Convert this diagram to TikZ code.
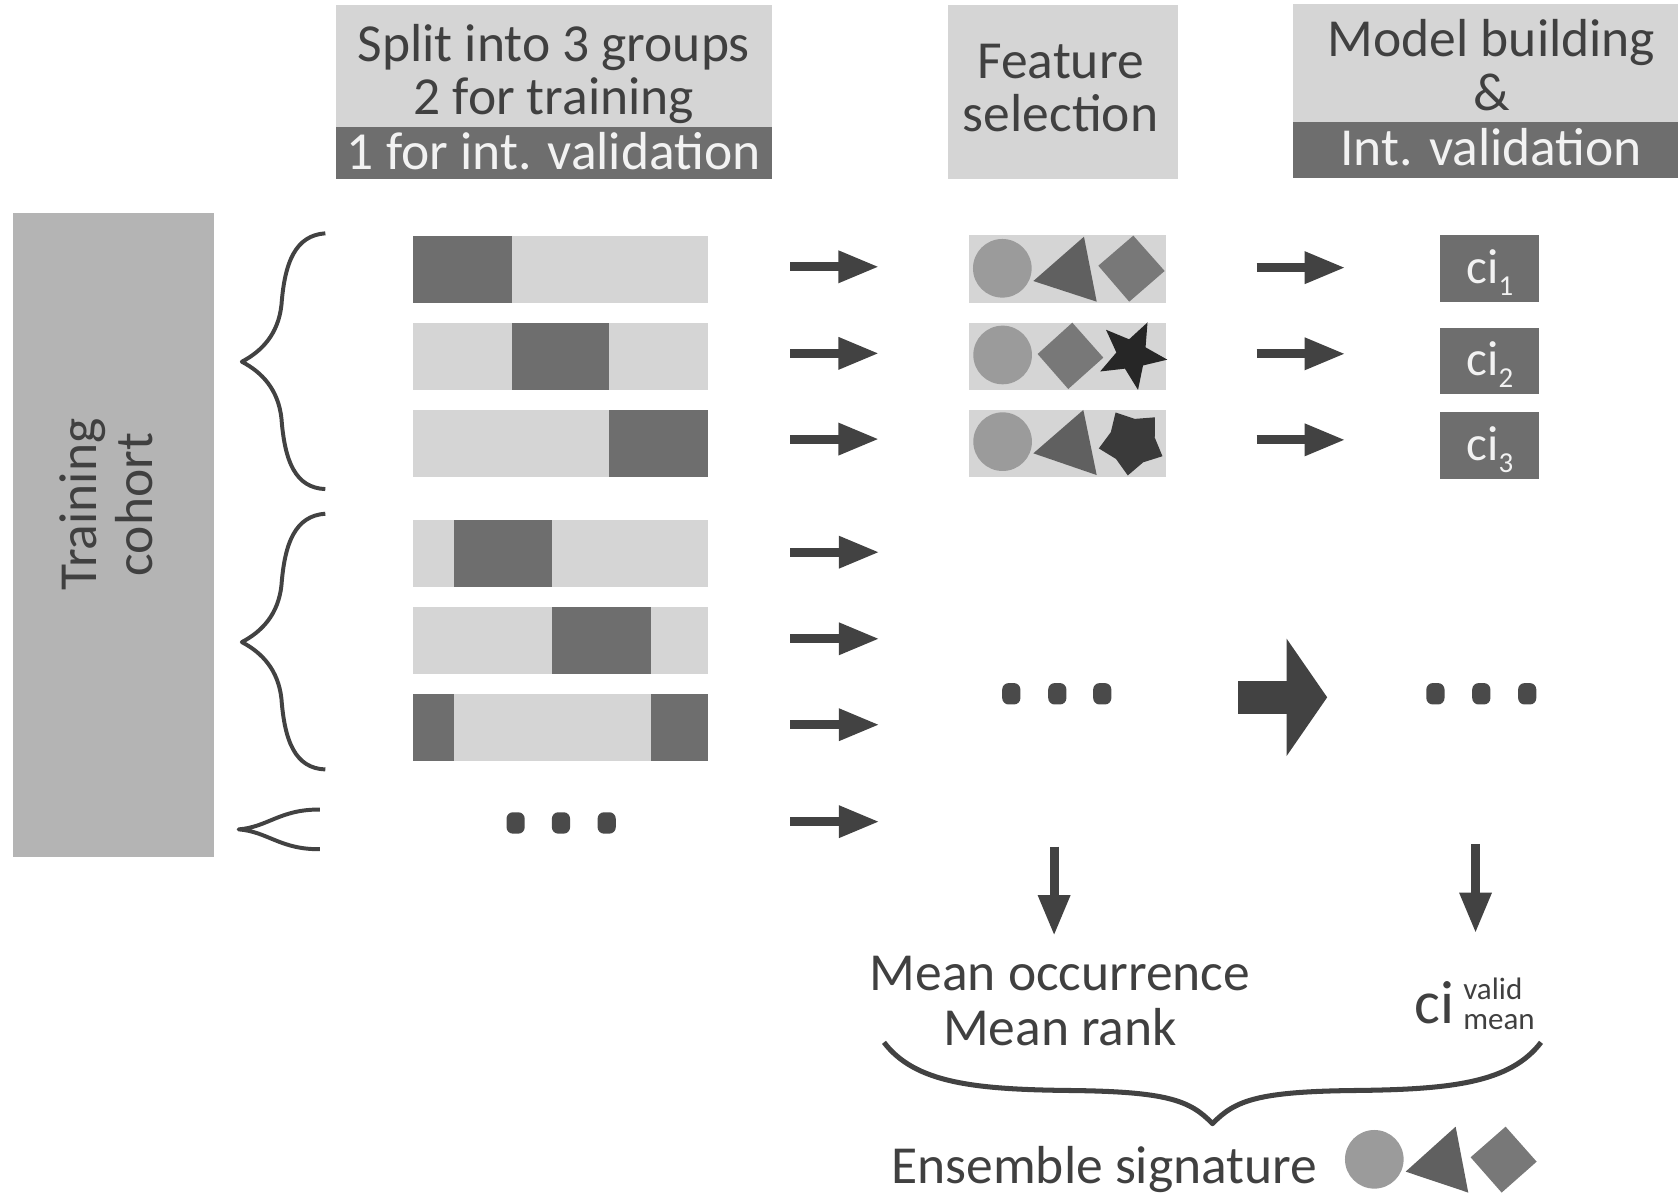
\documentclass[tikz,border=0pt]{standalone}
\usepackage{fontspec}
\setmainfont{Carlito}
\usepackage{xcolor}
\definecolor{ltgray}{RGB}{213,213,213}
\definecolor{dkgray}{RGB}{110,110,110}
\definecolor{cohortgray}{RGB}{180,180,180}
\definecolor{arrowgray}{RGB}{66,66,66}
\definecolor{dotgray}{RGB}{74,74,74}
\definecolor{txtgray}{RGB}{64,64,64}
\definecolor{bandtxt}{RGB}{242,242,242}
\definecolor{circgray}{RGB}{155,155,155}
\definecolor{trigray}{RGB}{96,96,96}
\definecolor{diagray}{RGB}{120,120,120}
\definecolor{stargray}{RGB}{38,38,38}
\definecolor{startwogray}{RGB}{58,58,58}
\usetikzlibrary{arrows.meta, positioning, shapes.geometric, calc}

\newcommand{\cisub}[1]{\raisebox{-11pt}{\fontsize{27}{27}\selectfont #1}}
\newcommand{\cistack}[2]{\hspace{8pt}\raisebox{-6.4pt}{\fontsize{29}{28}\selectfont
  \begin{tabular}[b]{@{}l@{}}#1\\#2\end{tabular}}}

\tikzset{
  bigtxt/.style={font=\fontsize{50}{50}\selectfont, text=txtgray, inner sep=0pt, anchor=base},
  headbox/.style={fill=ltgray, inner sep=0pt},
  headband/.style={fill=dkgray, inner sep=0pt},
  bar/.style={fill=ltgray, minimum width=276.3pt, minimum height=63pt, inner sep=0pt},
  darkseg/.style={fill=dkgray, minimum height=63pt, inner sep=0pt},
  featbox/.style={fill=ltgray, minimum width=184.5pt, minimum height=63pt, inner sep=0pt},
  cibox/.style={fill=dkgray, text=bandtxt, minimum width=92.4pt, minimum height=62.3pt,
    inner sep=0pt, text height=34pt, text depth=6pt, font=\fontsize{46}{46}\selectfont},
  dotmark/.style={fill=dotgray, rounded corners=6pt, minimum width=17pt, minimum height=20pt, inner sep=0pt},
  flowarrow/.style={draw=arrowgray, line width=8.5pt, -{Triangle[length=38pt, width=28pt]}},
  bigarrow/.style={draw=arrowgray, line width=31pt, -{Triangle[length=38pt, width=108pt]}},
  bracepath/.style={draw=arrowgray, line width=3.7pt, line join=round},
}

\begin{document}
\begin{tikzpicture}[x=1pt, y=-1pt]
  \useasboundingbox (0,0) rectangle (1568,1117);

  % Header: split
  \node[headbox, minimum width=407pt, minimum height=162pt] (splitbox) at (517.5,86) {};
  \node[headband, minimum width=407pt, minimum height=48.5pt, anchor=south] (splitband) at (splitbox.south) {};
  \node[bigtxt] (splitone) at (517.5,57) {Split into 3 groups};
  \node[bigtxt] (splittwo) at (517.5,107) {2 for training};
  \node[bigtxt, text=bandtxt] (splitthree) at (517.5,158) {1 for int. validation};

  % Header: feature selection
  \node[headbox, minimum width=215pt, minimum height=162pt] (selbox) at (993.5,86) {};
  \node[bigtxt] (selone) at (991,73) {Feature};
  \node[bigtxt] (seltwo) at (991,123) {selection};

  % Header: model building
  \node[headbox, minimum width=360pt, minimum height=163pt] (modelbox) at (1388,85.2) {};
  \node[headband, minimum width=360pt, minimum height=53pt, anchor=south] (modelband) at (modelbox.south) {};
  \node[bigtxt] (modelone) at (1393.8,53) {Model building};
  \node[bigtxt] (modeltwo) at (1393.5,103.4) {\&};
  \node[bigtxt, text=bandtxt] (modelthree) at (1393.5,154.2) {Int. validation};

  % Training cohort
  \node[fill=cohortgray, minimum width=188pt, minimum height=602pt, inner sep=0pt] (cohort) at (106,500) {};
  \node[bigtxt, rotate=90] (cohortone) at (90.3,471.5) {Training};
  \node[bigtxt, rotate=90] (cohorttwo) at (142.7,471.5) {cohort};

  % Braces
  \draw[bracepath] (304,218) .. controls (276,220) and (266,245) .. (263,285)
       .. controls (260,312) and (245,328) .. (226,338)
       .. controls (245,348) and (260,364) .. (263,391)
       .. controls (266,431) and (276,456) .. (304,457);
  \draw[bracepath] (304,480) .. controls (276,482) and (266,507) .. (263,547)
       .. controls (260,574) and (245,590) .. (226,600)
       .. controls (245,610) and (260,626) .. (263,653)
       .. controls (266,693) and (276,718) .. (304,719);
  \draw[bracepath] (299,756.5) .. controls (262,756) and (250,773) .. (223,775)
       .. controls (250,777) and (262,794) .. (299,793.5);

  % Splits
  \node[bar] (bar1) at (523.75,251.8) {};
  \node[darkseg, minimum width=92.5pt, right=0pt of bar1.west] (seg1) {};
  \node[bar, below=18pt of bar1] (bar2) {};
  \node[darkseg, minimum width=91.3pt, right=92.5pt of bar2.west] (seg2) {};
  \node[bar, below=18pt of bar2] (bar3) {};
  \node[darkseg, minimum width=92.5pt, left=0pt of bar3.east] (seg3) {};
  \node[bar, below=39pt of bar3] (bar4) {};
  \node[darkseg, minimum width=92.2pt, right=38.3pt of bar4.west] (seg4) {};
  \node[bar, below=18pt of bar4] (bar5) {};
  \node[darkseg, minimum width=91.9pt, right=130.5pt of bar5.west] (seg5) {};
  \node[bar, below=18pt of bar5] (bar6) {};
  \node[darkseg, minimum width=38.6pt, right=0pt of bar6.west] (seg6a) {};
  \node[darkseg, minimum width=54pt, left=0pt of bar6.east] (seg6b) {};
  \node[dotmark] (bdot1) at (481.8,769) {};
  \node[dotmark] (bdot2) at (524.2,769) {};
  \node[dotmark] (bdot3) at (566.9,769) {};

  % Feature boxes
  \node[featbox] (feat1) at (997.75,251.5) {};
  \node[featbox, below=18pt of feat1] (feat2) {};
  \node[featbox, below=18pt of feat2] (feat3) {};
  \fill[circgray] (936.6,250.7) circle (27.4);
  \fill[trigray] (965.6,262.6) -- (1012.9,221.2) -- (1024.8,281.9) -- cycle;
  \fill[diagray] (1026.3,248.3) -- (1059,220.2) -- (1088.3,253.2) -- (1055.2,281.9) -- cycle;
  \fill[circgray] (936.9,331.7) circle (27.4);
  \fill[diagray] (969.6,330.8) -- (1002,301.5) -- (1031,334.2) -- (998.2,363.5) -- cycle;
  \node[star, star points=5, star point ratio=2.3, minimum size=67pt, inner sep=0pt,
        fill=stargray, shape border rotate=-26] (starone) at (1057.6,331.4) {};
  \fill[circgray] (936.9,412.7) circle (27.4);
  \fill[trigray] (965.6,423.6) -- (1012.3,383.1) -- (1024.8,443.9) -- cycle;
  \node[star, star points=5, star point ratio=1.45, minimum size=63pt, inner sep=0pt,
        fill=startwogray, shape border rotate=29] (startwo) at (1057.7,413) {};

  % ci boxes
  \node[cibox] (ci1) at (1392.1,250.75) {ci\cisub{1}};
  \node[cibox] (ci2) at (1392.1,337.3) {ci\cisub{2}};
  \node[cibox] (ci3) at (1392.1,416.45) {ci\cisub{3}};

  % Dots
  \node[dotmark] (fdot1) at (945,648.3) {};
  \node[dotmark] (fdot2) at (988,648.3) {};
  \node[dotmark] (fdot3) at (1030,648.3) {};
  \node[dotmark] (cdot1) at (1341.3,648.3) {};
  \node[dotmark] (cdot2) at (1384.2,648.3) {};
  \node[dotmark] (cdot3) at (1427.1,648.3) {};

  % Arrows
  \draw[flowarrow] ($(bar1.east)+(76.3,-2.5)$) -- ($(feat1.west)+(-83.8,-2.2)$);
  \draw[flowarrow] ($(bar2.east)+(76.3,-3)$) -- ($(feat2.west)+(-83.8,-2.7)$);
  \draw[flowarrow] ($(bar3.east)+(76.3,-4.3)$) -- ($(feat3.west)+(-83.8,-4)$);
  \draw[flowarrow] ($(bar4.east)+(76.3,-1)$) -- ($(bar4.east)+(159.8,-1)$);
  \draw[flowarrow] ($(bar5.east)+(76.3,-1.5)$) -- ($(bar5.east)+(159.8,-1.5)$);
  \draw[flowarrow] ($(bar6.east)+(76.3,-2.6)$) -- ($(bar6.east)+(159.8,-2.6)$);
  \draw[flowarrow] ($(bdot3.east)+(162.8,-1.2)$) -- ($(bdot3.east)+(246.3,-1.2)$);
  \draw[flowarrow] ($(feat1.east)+(84,-1.4)$) -- ($(ci1.west |- feat1.east)+(-88.5,-1.4)$);
  \draw[flowarrow] ($(feat2.east)+(84,-2.3)$) -- ($(ci2.west |- feat2.east)+(-88.5,-2.3)$);
  \draw[flowarrow] ($(feat3.east)+(84,-3.3)$) -- ($(ci3.west |- feat3.east)+(-88.5,-3.3)$);
  \draw[bigarrow] ($(fdot3.east)+(118.5,3.3)$) -- ($(cdot1.west)+(-92.4,3.3)$);
  \draw[flowarrow] ($(fdot2.south)+(-3,132.5)$) -- ($(fdot2.south)+(-3,216)$);
  \draw[flowarrow] ($(cdot2.south)+(-5.4,130)$) -- ($(cdot2.south)+(-5.4,213.6)$);

  % Results
  \node[bigtxt] (meanocc) at (990.5,926) {Mean occurrence};
  \node[bigtxt] (meanrank) at (990.5,976.5) {Mean rank};
  \node[bigtxt, font=\fontsize{57}{57}\selectfont, anchor=base west] (cimean) at (1322,956)
       {ci\cistack{valid}{mean}};

  % Ensemble
  \draw[bracepath, line width=4.7pt] (826,974) .. controls (855,1012) and (910,1018) .. (1000,1019)
       .. controls (1090,1020) and (1112,1028) .. (1133,1050)
       .. controls (1154,1028) and (1176,1020) .. (1266,1019)
       .. controls (1356,1018) and (1411,1012) .. (1440,974);
  \node[bigtxt] (ensemble) at (1032,1105.7) {Ensemble signature};
  \fill[circgray] (1284.2,1083.3) circle (27.4);
  \fill[trigray] (1313.5,1094.8) -- (1360.2,1052.8) -- (1372,1114.4) -- cycle;
  \fill[diagray] (1374.2,1081.4) -- (1406.9,1052.8) -- (1435.9,1085.5) -- (1403.2,1114.4) -- cycle;
\end{tikzpicture}
\end{document}
